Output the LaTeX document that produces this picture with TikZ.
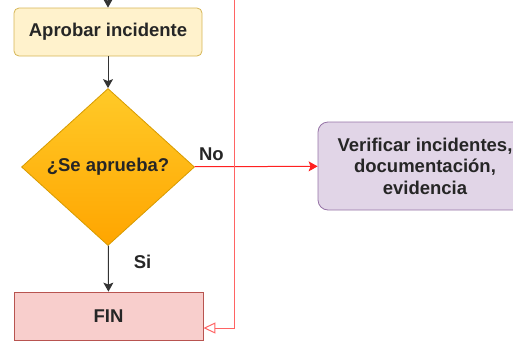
\documentclass[tikz,border=0pt]{standalone}
\usepackage{fontspec}
\setmainfont{Liberation Sans}
\usetikzlibrary{shapes.geometric,arrows.meta}

\definecolor{yellowfill}{HTML}{FFF2CC}
\definecolor{yellowline}{HTML}{D6B656}
\definecolor{purplefill}{HTML}{E1D5E7}
\definecolor{purpleline}{HTML}{9673A6}
\definecolor{redfill}{HTML}{F8CECC}
\definecolor{redline}{HTML}{B85450}
\definecolor{orangetop}{HTML}{FFCA28}
\definecolor{orangebottom}{HTML}{FFA500}
\definecolor{orangeline}{HTML}{D79B00}
\definecolor{flowred}{HTML}{FF2020}

\begin{document}
\begin{tikzpicture}[
x=1pt, y=-1pt,
every node/.style={font=\fontsize{18.5}{21.5}\selectfont\bfseries, text=black!85},
block/.style={rectangle, text centered, draw, line width=0.8pt,
minimum width=188pt, minimum height=48pt},
block-task/.style={block, rounded corners=5pt, fill=yellowfill, draw=yellowline},
block-check/.style={block, rounded corners=10pt, fill=purplefill, draw=purpleline,
minimum width=214pt, minimum height=88pt, align=center},
block-end/.style={block, fill=redfill, draw=redline, minimum width=189pt},
decision/.style={diamond, draw=orangeline, line width=0.8pt, inner sep=0pt,
top color=orangetop, bottom color=orangebottom,
minimum width=173pt, minimum height=157pt},
flow/.style={draw=black!80, line width=1pt, -{Stealth[length=9pt, width=10pt, inset=2pt]}},
flow-no/.style={draw=flowred, line width=1pt, -{Stealth[length=9pt, width=10pt, inset=2pt]}},
flow-back/.style={draw=flowred!70, line width=1pt, -{Triangle[open, length=12pt, width=11pt, fill=white]}},
edge-label/.style={inner sep=0pt}
]
\useasboundingbox (0,0) rectangle (513,343);

% nodes
\node [block-task] (aprobar) at (108,32) {Aprobar incidente};
\node [decision] (decision) at (108,167) {¿Se aprueba?};
\node [block-end] (fin) at (108.5,316) {FIN};
\node [block-check] (verificar) at (425,166) {Verificar incidentes,\\documentación,\\evidencia};

\coordinate (in-top) at (108,0);
\coordinate (back-top) at (234,0);
\coordinate (back-corner) at (234,328);

% connectors
\draw [flow] (in-top) -- (aprobar);
\draw [flow] (aprobar) -- (decision);
\draw [flow] (decision) -- node [edge-label, pos=0.36, right=25pt] {Si} (fin);
\draw [flow-no] (decision) -- node [edge-label, at start, anchor=south west, xshift=4pt, yshift=6pt] {No} (verificar);
\draw [flow-back] (back-top) -- (back-corner) -- (back-corner -| fin.east);

\end{tikzpicture}
\end{document}
